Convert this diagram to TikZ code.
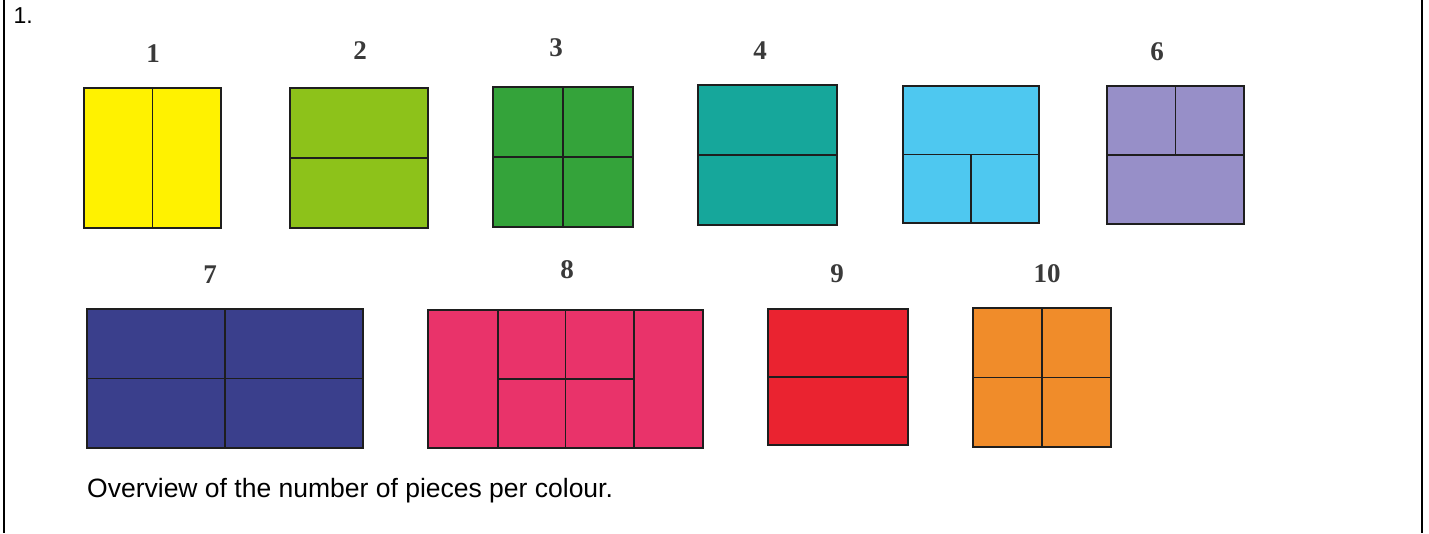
\documentclass[tikz,border=0pt]{standalone}
\usepackage{fontspec}
\setmainfont{Liberation Serif}
\newfontfamily\arialf{Liberation Sans}
\usetikzlibrary{calc}
\definecolor{cyellow}{HTML}{FFF200}
\definecolor{clime}{HTML}{8DC21A}
\definecolor{cgreen}{HTML}{34A33A}
\definecolor{cteal}{HTML}{16A79B}
\definecolor{csky}{HTML}{4EC8F0}
\definecolor{clav}{HTML}{978FC8}
\definecolor{cnavy}{HTML}{3A3F8C}
\definecolor{cpink}{HTML}{E9336A}
\definecolor{cred}{HTML}{EA2330}
\definecolor{corange}{HTML}{F08C2A}
\definecolor{edge}{HTML}{1E1E1E}
\definecolor{lbl}{HTML}{3A3A3A}
\tikzset{
  piece/.style={draw=edge, line width=2pt, inner sep=0pt, outer sep=0pt},
  cut/.style={draw=edge, line width=1.8pt},
  numlbl/.style={font=\fontsize{27}{30}\selectfont\bfseries, text=lbl, inner sep=0pt},
  frameline/.style={line width=2.5pt, draw=black},
}
\begin{document}
\begin{tikzpicture}[x=1pt,y=-1pt]
\useasboundingbox (0,0) rectangle (1429,533);
\coordinate (ltop) at (4,0);
\coordinate (lbot) at (4,533);
\coordinate (rtop) at (1422,0);
\coordinate (rbot) at (1422,533);
\draw[frameline] (ltop) -- (lbot);
\draw[frameline] (rtop) -- (rbot);

\node[anchor=base west, inner sep=0pt, font=\arialf\fontsize{23}{26}\selectfont] (num) at (13.5,23) {1.};

% top row
\node[piece, fill=cyellow, minimum width=137pt, minimum height=140pt] (b1) at (152.5,158) {};
\draw[cut] (b1.north) -- (b1.south);
\node[piece, fill=clime, minimum width=138pt, minimum height=140pt] (b2) at (359,158) {};
\draw[cut] (b2.west) -- (b2.east);
\node[piece, fill=cgreen, minimum width=140pt, minimum height=140pt] (b3) at (563,157) {};
\draw[cut] (b3.west) -- (b3.east);
\draw[cut] (b3.north) -- (b3.south);
\node[piece, fill=cteal, minimum width=139pt, minimum height=140pt] (b4) at (767.5,155) {};
\draw[cut] (b4.west) -- (b4.east);
\node[piece, fill=csky, minimum width=136pt, minimum height=137pt] (b5) at (971,154.5) {};
\draw[cut] (b5.west) -- (b5.east);
\draw[cut] (b5.center) -- (b5.south);
\node[piece, fill=clav, minimum width=137pt, minimum height=138pt] (b6) at (1175.5,155) {};
\draw[cut] (b6.west) -- (b6.east);
\draw[cut] (b6.north) -- (b6.center);

\node[numlbl] (l1) at (153,54) {1};
\node[numlbl] (l2) at (360,51) {2};
\node[numlbl] (l3) at (556,48) {3};
\node[numlbl] (l4) at (760,51) {4};
\node[numlbl] (l6) at (1157,52) {6};

% bottom row
\node[piece, fill=cnavy, minimum width=276pt, minimum height=139pt] (b7) at (225,378.5) {};
\draw[cut] (b7.west) -- (b7.east);
\draw[cut] (b7.north) -- (b7.south);
\node[piece, fill=cpink, minimum width=275pt, minimum height=138pt] (b8) at (565.5,379) {};
\draw[cut] ($(b8.north west)!0.255!(b8.north east)$) -- ($(b8.south west)!0.255!(b8.south east)$);
\draw[cut] (b8.north) -- (b8.south);
\draw[cut] ($(b8.north west)!0.75!(b8.north east)$) -- ($(b8.south west)!0.75!(b8.south east)$);
\draw[cut] ($(b8.west)!0.255!(b8.east)$) -- ($(b8.west)!0.75!(b8.east)$);
\node[piece, fill=cred, minimum width=140pt, minimum height=136pt] (b9) at (838,377) {};
\draw[cut] (b9.west) -- (b9.east);
\node[piece, fill=corange, minimum width=138pt, minimum height=139pt] (b10) at (1042,377.5) {};
\draw[cut] (b10.west) -- (b10.east);
\draw[cut] (b10.north) -- (b10.south);

\node[numlbl] (l7) at (210,275) {7};
\node[numlbl] (l8) at (567,270) {8};
\node[numlbl] (l9) at (837,274) {9};
\node[numlbl] (l10) at (1047,274) {10};

\node[anchor=base west, inner sep=0pt, font=\arialf\fontsize{26.5}{30}\selectfont] (cap) at (87,497) {Overview of the number of pieces per colour.};
\end{tikzpicture}
\end{document}
